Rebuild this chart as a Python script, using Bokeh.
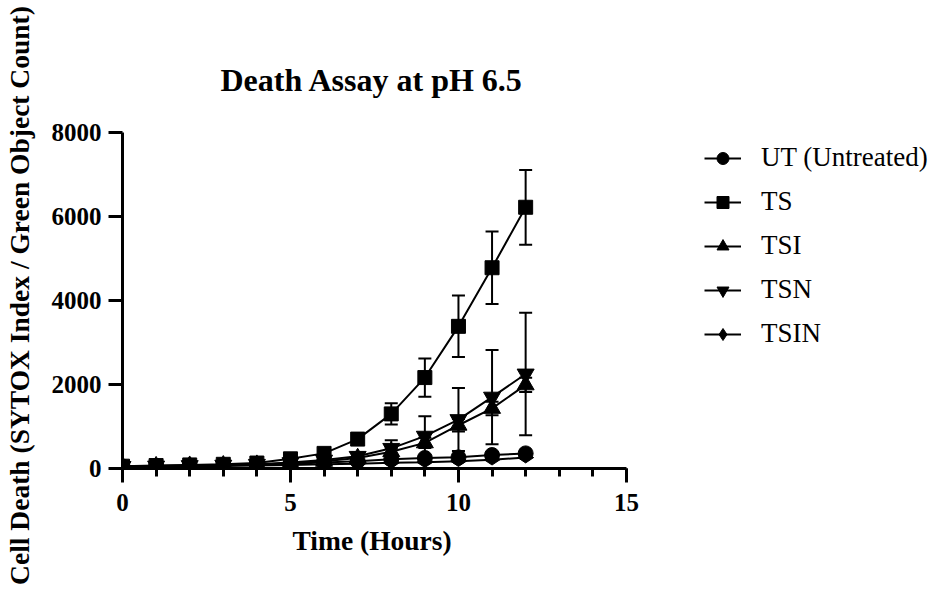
import numpy as np
from bokeh.plotting import figure
from bokeh.models import (ColumnDataSource, Whisker, TeeHead, Legend, LegendItem,
                          SingleIntervalTicker, Range1d, Title)
from bokeh.embed import file_html
from bokeh.resources import INLINE

# ---------------- data ----------------
hours = list(range(13))
labels = ["UT (Untreated)", "TS", "TSI", "TSN", "TSIN"]
ut = [50, 60, 70, 80, 95, 115, 140, 175, 220, 250, 265, 320, 360]
ts = [55, 70, 85, 100, 130, 230, 360, 700, 1300, 2165, 3385, 4780, 6220]
ts_err = [10, 10, 15, 15, 20, 30, 50, 90, 255, 455, 733, 865, 890]
tsi = [45, 55, 65, 75, 90, 130, 170, 250, 400, 610, 1030, 1430, 1990]
tsi_err = [5, 5, 10, 10, 15, 20, 30, 50, 80, 120, 150, 160, 170]
tsn = [50, 60, 70, 80, 100, 140, 200, 290, 480, 770, 1165, 1700, 2250]
tsn_err = [5, 5, 10, 10, 15, 25, 40, 90, 195, 475, 750, 1120, 1460]
tsin = [45, 50, 55, 60, 70, 85, 100, 115, 135, 150, 175, 210, 260]

x_axis_max = 15
y_axis_max = 8000
x_ticks_interval = 5
y_ticks_interval = 2000

FONT = "Liberation Serif"

p = figure(width=934, height=597, output_backend="svg", toolbar_location=None,
           title=None,
           x_range=Range1d(0, 24.17), y_range=Range1d(0, 8238),
           min_border_left=121, min_border_right=0,
           min_border_top=122, min_border_bottom=129)
p.xgrid.visible = False
p.ygrid.visible = False
p.outline_line_color = None
p.background_fill_color = "white"
p.border_fill_color = "white"

# chart title
p.add_layout(Title(text="Death Assay at pH 6.5", align="left", offset=98,
                   standoff=50, text_font=FONT, text_font_size="32px",
                   text_font_style="bold", text_color="black"), "above")

# axes
for ax in (p.xaxis[0], p.yaxis[0]):
    ax.axis_line_width = 3
    ax.axis_line_color = "black"
    ax.major_tick_line_width = 3
    ax.minor_tick_line_width = 3
    ax.major_tick_in = 0
    ax.minor_tick_in = 0
    ax.major_tick_out = 14
    ax.major_label_text_font = FONT
    ax.major_label_text_font_size = "25px"
    ax.major_label_text_font_style = "bold"
    ax.major_label_text_color = "black"
    ax.axis_label_text_font = FONT
    ax.axis_label_text_font_size = "27.5px"
    ax.axis_label_text_font_style = "bold"
    ax.axis_label_text_color = "black"

xa = p.xaxis[0]
xa.bounds = (0, x_axis_max)
xa.ticker = SingleIntervalTicker(interval=x_ticks_interval, num_minor_ticks=5)
xa.minor_tick_out = 8
xa.major_label_standoff = 11

ya = p.yaxis[0]
ya.bounds = (0, y_axis_max)
ya.ticker = SingleIntervalTicker(interval=y_ticks_interval, num_minor_ticks=0)
ya.minor_tick_out = 0
ya.major_label_standoff = 7
ya.axis_label = "Cell Death (SYTOX Index / Green Object Count)"
ya.axis_label_standoff = 14

# x axis title, centred under the drawn axis (0..15)
p.add_layout(Title(text="Time (Hours)", align="left", offset=170,
                   vertical_align="top", standoff=22, text_font=FONT,
                   text_font_size="27.5px", text_font_style="bold",
                   text_color="black"), "below")

# series
series = [
    ("TSIN", tsin, None, "diamond", 16, np.pi / 2),
    ("TSI", tsi, tsi_err, "triangle", 17, 0),
    ("TSN", tsn, tsn_err, "inverted_triangle", 17, 0),
    ("TS", ts, ts_err, "square", 14, 0),
    ("UT (Untreated)", ut, None, "circle", 15, 0),
]
items = {}
for name, vals, err, marker, size, ang in series:
    src = ColumnDataSource(dict(x=hours, y=vals))
    if err is not None:
        esrc = ColumnDataSource(dict(
            x=hours,
            upper=[v + e for v, e in zip(vals, err)],
            lower=[v - e for v, e in zip(vals, err)]))
        w = Whisker(base="x", upper="upper", lower="lower", source=esrc,
                    line_color="black", line_width=2,
                    upper_head=TeeHead(size=13, line_width=2, line_color="black"),
                    lower_head=TeeHead(size=13, line_width=2, line_color="black"))
        p.add_layout(w)
    lr = p.line("x", "y", source=src, line_color="black", line_width=2)
    sr = p.scatter("x", "y", source=src, marker=marker, size=size, angle=ang,
                   fill_color="black", line_color="black")
    items[name] = [lr, sr]

legend = Legend(items=[LegendItem(label=n, renderers=items[n]) for n in labels],
                location=(582, 119), padding=0, margin=0, spacing=13,
                glyph_width=37, glyph_height=30, label_height=30,
                label_standoff=20, border_line_color=None,
                background_fill_alpha=0,
                label_text_font=FONT, label_text_font_size="27px",
                label_text_color="black")
p.add_layout(legend, "center")

open("out.html", "w").write(file_html(p, INLINE))
